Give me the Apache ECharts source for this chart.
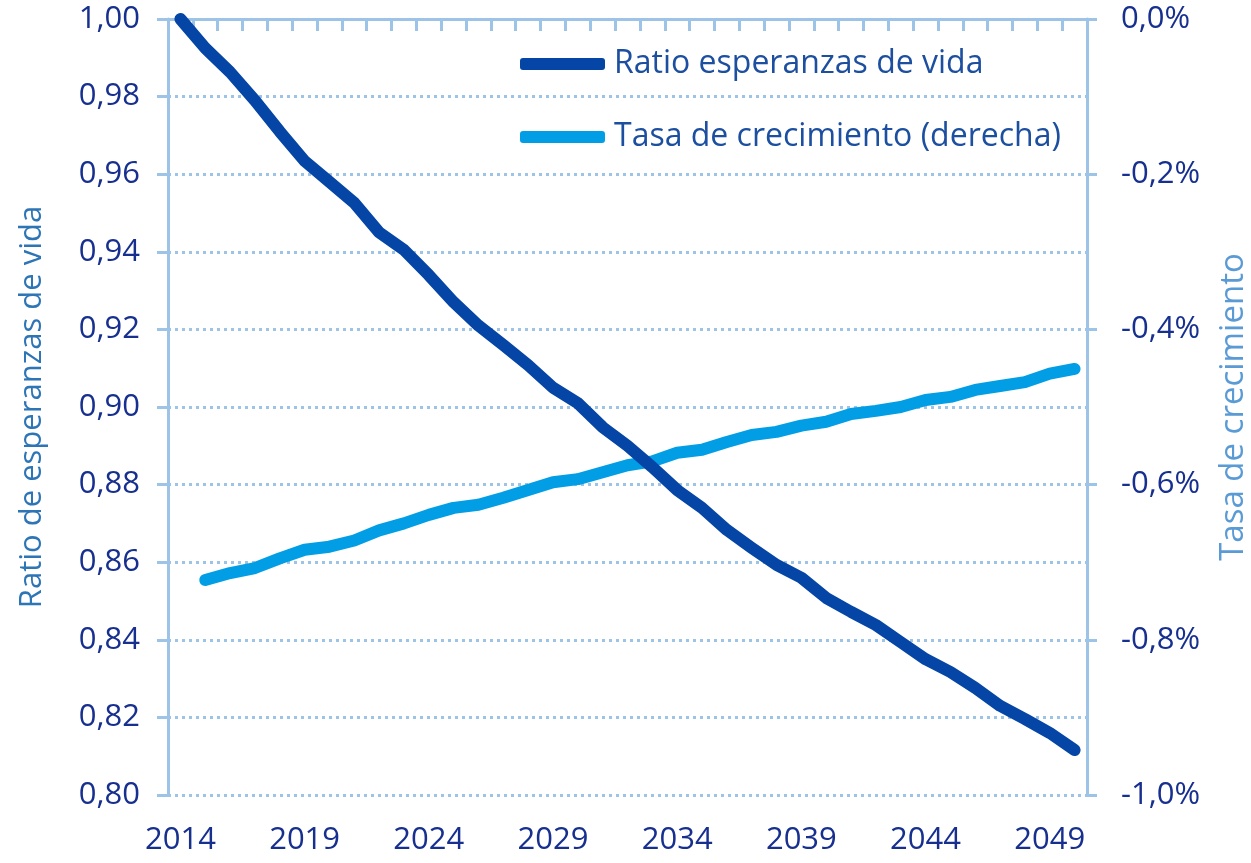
<!DOCTYPE html>
<html>
<head>
<meta charset="utf-8">
<script src="https://cdn.jsdelivr.net/npm/echarts@6/dist/echarts.min.js"></script>
<style>
  html, body { margin: 0; padding: 0; background: #fff; }
  #chart { width: 1251px; height: 863px; }
</style>
</head>
<body>
<div id="chart"></div>
<script>
// years on the category axis
const years = []
for (let y = 2014; y <= 2050; y++) years.push(String(y))

// ratio of life expectancies (left axis)
const ratio = [
  1.000, 0.9925, 0.9863, 0.979, 0.971, 0.9634, 0.958, 0.9526, 0.945, 0.9405,
  0.934, 0.927, 0.921, 0.916, 0.9108, 0.905, 0.901, 0.8948, 0.890, 0.8845,
  0.8786, 0.874, 0.8683, 0.8637, 0.8593, 0.856, 0.8508, 0.8472, 0.8438, 0.8394,
  0.835, 0.8317, 0.8276, 0.823, 0.8196, 0.816, 0.8116
]

// growth rate in % (right axis), starts in 2015
const growth = [
  null, -0.723, -0.714, -0.7075, -0.695, -0.684, -0.680, -0.672, -0.659, -0.650,
  -0.639, -0.630, -0.626, -0.617, -0.607, -0.597, -0.593, -0.584, -0.575, -0.570,
  -0.559, -0.555, -0.545, -0.536, -0.532, -0.524, -0.519, -0.509, -0.505, -0.500,
  -0.491, -0.487, -0.478, -0.473, -0.468, -0.457, -0.451
]

const axisBlue = "#9DC3E6"
const labelBlue = "#17308F"
const font = "'Open Sans', sans-serif"

const chart = echarts.init(document.getElementById("chart"))

chart.setOption({
  animation: false,
  backgroundColor: "#fff",
  grid: { left: 168, right: 164, top: 19, bottom: 68, outerBoundsMode: "none", containLabel: false },
  legend: {
    orient: "vertical",
    left: 515,
    top: 40,
    itemWidth: 85,
    itemHeight: 12,
    itemGap: 35,
    icon: "roundRect",
    textStyle: {
      color: "#1C4FA0",
      fontSize: 32,
      fontFamily: font,
      lineHeight: 38,
      padding: [0, 0, 0, 4]
    },
    data: ["Ratio esperanzas de vida", "Tasa de crecimiento (derecha)"]
  },
  xAxis: {
    type: "category",
    data: years,
    boundaryGap: true,
    axisLine: { lineStyle: { color: axisBlue, width: 3 } },
    axisTick: { show: true, interval: 0, length: 12, lineStyle: { color: axisBlue, width: 3 } },
    axisLabel: {
      interval: 4,
      margin: 30,
      color: labelBlue,
      fontSize: 31,
      fontFamily: font
    },
    splitLine: { show: false }
  },
  yAxis: [
    {
      type: "value",
      min: 0.8,
      max: 1.0,
      interval: 0.02,
      name: "Ratio de esperanzas de vida",
      nameLocation: "middle",
      nameGap: 120,
      nameTextStyle: { color: "#2E75B6", fontSize: 31, fontFamily: font },
      axisLine: { show: true, lineStyle: { color: axisBlue, width: 3 } },
      axisTick: { show: true, length: 11, lineStyle: { color: axisBlue, width: 3 } },
      axisLabel: {
        margin: 28,
        color: labelBlue,
        fontSize: 31,
        fontFamily: font,
        formatter: (v) => v.toFixed(2).replace(".", ",")
      },
      splitLine: { show: true, lineStyle: { color: axisBlue, width: 3, type: [3, 4] } }
    },
    {
      type: "value",
      min: -1.0,
      max: 0,
      interval: 0.2,
      position: "right",
      name: "Tasa de crecimiento",
      nameLocation: "middle",
      nameGap: 130,
      nameRotate: 90,
      nameTextStyle: {
        color: "#5B9BD5",
        fontSize: 33,
        fontFamily: "'Liberation Sans Narrow', 'Open Sans', sans-serif"
      },
      axisLine: { show: true, lineStyle: { color: axisBlue, width: 3 } },
      axisTick: { show: true, length: 10, lineStyle: { color: axisBlue, width: 3 } },
      axisLabel: {
        margin: 34,
        color: labelBlue,
        fontSize: 31,
        fontFamily: font,
        formatter: (v) => v.toFixed(1).replace(".", ",") + "%"
      },
      splitLine: { show: false }
    }
  ],
  series: [
    {
      name: "Ratio esperanzas de vida",
      type: "line",
      yAxisIndex: 0,
      data: ratio,
      showSymbol: false,
      symbol: "none",
      color: "#0445A6",
      lineStyle: { width: 12, color: "#0445A6", cap: "round", join: "round" },
      z: 3
    },
    {
      name: "Tasa de crecimiento (derecha)",
      type: "line",
      yAxisIndex: 1,
      data: growth,
      showSymbol: false,
      symbol: "none",
      color: "#029EE5",
      lineStyle: { width: 12, color: "#029EE5", cap: "round", join: "round" },
      z: 2
    }
  ]
})
</script>
</body>
</html>
